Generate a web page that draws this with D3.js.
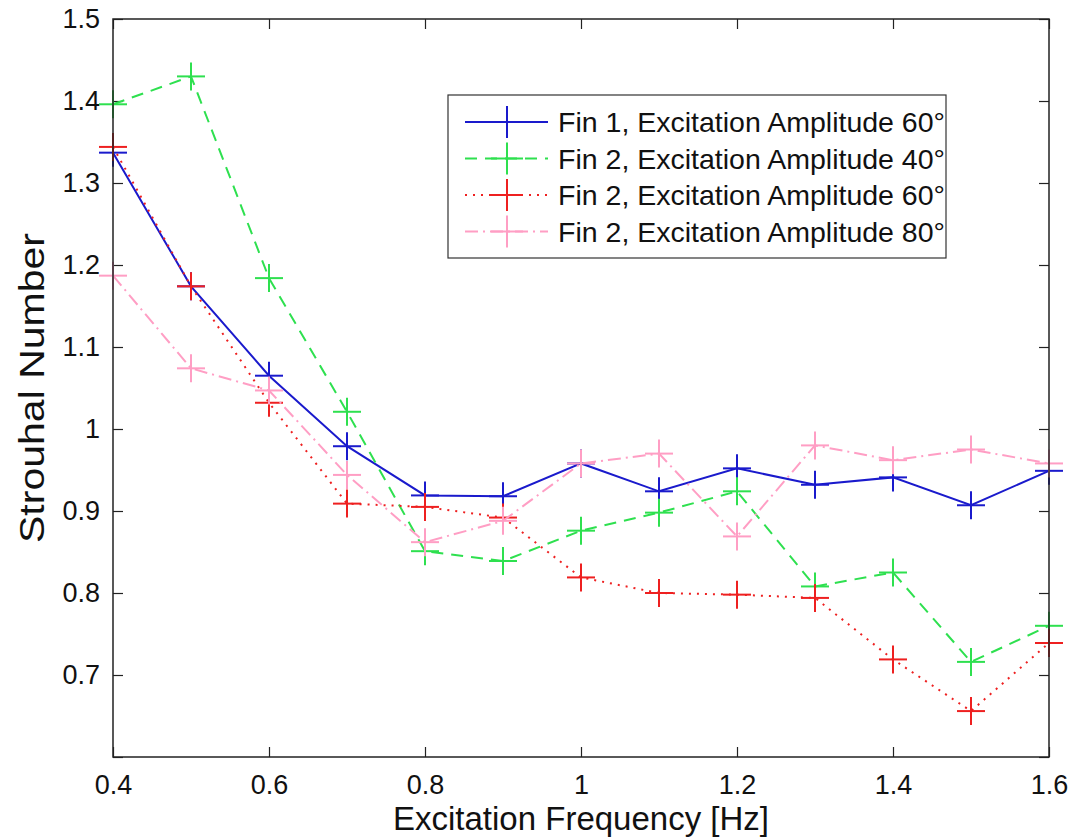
<!DOCTYPE html>
<html>
<head>
<meta charset="utf-8">
<script src="https://cdn.jsdelivr.net/npm/d3@7"></script>
<style>
  body { margin: 0; background: #fff; }
  svg { display: block; font-family: "Liberation Sans", Arial, sans-serif; }
</style>
</head>
<body>
<svg id="chart" width="1074" height="840"></svg>
<script>
// excitation frequency [Hz]
const freq = [0.4, 0.5, 0.6, 0.7, 0.8, 0.9, 1.0, 1.1, 1.2, 1.3, 1.4, 1.5, 1.6];

// Strouhal number per series
const fin1Amp60 = [1.337, 1.174, 1.065, 0.979, 0.919, 0.918, 0.958, 0.924, 0.952, 0.932, 0.941, 0.907, 0.949];
const fin2Amp40 = [1.396, 1.430, 1.184, 1.021, 0.851, 0.839, 0.876, 0.898, 0.924, 0.808, 0.825, 0.716, 0.760];
const fin2Amp60 = [1.344, 1.174, 1.032, 0.909, 0.905, 0.892, 0.819, 0.800, 0.798, 0.794, 0.719, 0.656, 0.739];
const fin2Amp80 = [1.187, 1.074, 1.047, 0.944, 0.862, 0.888, 0.958, 0.970, 0.869, 0.980, 0.962, 0.975, 0.958];

const seriesNames = [
    "Fin 1, Excitation Amplitude 60°",
    "Fin 2, Excitation Amplitude 40°",
    "Fin 2, Excitation Amplitude 60°",
    "Fin 2, Excitation Amplitude 80°"
];

const xTicks = [0.4, 0.6, 0.8, 1.0, 1.2, 1.4, 1.6];
const yTicks = [0.6, 0.7, 0.8, 0.9, 1.0, 1.1, 1.2, 1.3, 1.4, 1.5];
const yTickLabels = ["", "0.7", "0.8", "0.9", "1", "1.1", "1.2", "1.3", "1.4", "1.5"];
const xTickLabels = ["0.4", "0.6", "0.8", "1", "1.2", "1.4", "1.6"];

// line styles for each series (same order as seriesNames)
const styles = [
    { color: "#1a1acc", dash: null },
    { color: "#2ee04f", dash: "12,8" },
    { color: "#ee2020", dash: "2,6" },
    { color: "#ff9ec4", dash: "13,5,2,5" }
];

const svg = d3.select("#chart");
const plot = { left: 113, top: 19, right: 1049, bottom: 757 };

const x = d3.scaleLinear().domain([0.4, 1.6]).range([plot.left, plot.right]);
const y = d3.scaleLinear().domain([0.6, 1.5]).range([plot.bottom, plot.top]);

const data = [fin1Amp60, fin2Amp40, fin2Amp60, fin2Amp80].map((vals, i) => ({
    name: seriesNames[i],
    style: styles[i],
    points: vals.map((v, j) => ({ f: freq[j], s: v }))
}));

// axes: ticks point inward, labels only on bottom and left
const bottomAxis = d3.axisBottom(x).tickValues(xTicks)
    .tickFormat((d, i) => xTickLabels[i]).tickSizeInner(-10).tickSizeOuter(0).tickPadding(18);
const topAxis = d3.axisTop(x).tickValues(xTicks).tickFormat("").tickSizeInner(-10).tickSizeOuter(0);
const leftAxis = d3.axisLeft(y).tickValues(yTicks)
    .tickFormat((d, i) => yTickLabels[i]).tickSizeInner(-10).tickSizeOuter(0).tickPadding(13);
const rightAxis = d3.axisRight(y).tickValues(yTicks).tickFormat("").tickSizeInner(-10).tickSizeOuter(0);

function styleAxis(g) {
    g.select(".domain").remove();
    g.selectAll(".tick line").attr("stroke", "#222").attr("stroke-width", 1.2);
    g.selectAll(".tick text").attr("fill", "#111").style("font-size", "27px")
        .style("font-family", "'Liberation Sans', Arial, sans-serif");
}

svg.append("g").attr("transform", `translate(0,${plot.bottom})`).call(bottomAxis).call(styleAxis);
svg.append("g").attr("transform", `translate(0,${plot.top})`).call(topAxis).call(styleAxis);
svg.append("g").attr("transform", `translate(${plot.left},0)`).call(leftAxis).call(styleAxis);
svg.append("g").attr("transform", `translate(${plot.right},0)`).call(rightAxis).call(styleAxis);

// series lines + plus markers
const line = d3.line().x(d => x(d.f)).y(d => y(d.s));
const plusSize = 14;

function plus(g, color, cx, cy, r) {
    g.append("line").attr("x1", cx - r).attr("x2", cx + r).attr("y1", cy).attr("y2", cy)
        .attr("stroke", color).attr("stroke-width", 2);
    g.append("line").attr("x1", cx).attr("x2", cx).attr("y1", cy - r).attr("y2", cy + r)
        .attr("stroke", color).attr("stroke-width", 2);
}

data.forEach(s => {
    const g = svg.append("g");
    g.append("path")
        .datum(s.points)
        .attr("d", line)
        .attr("fill", "none")
        .attr("stroke", s.style.color)
        .attr("stroke-width", 2)
        .attr("stroke-dasharray", s.style.dash);
    s.points.forEach(p => plus(g, s.style.color, x(p.f), y(p.s), plusSize));
});

// frame
svg.append("rect")
    .attr("x", plot.left).attr("y", plot.top)
    .attr("width", plot.right - plot.left).attr("height", plot.bottom - plot.top)
    .attr("fill", "none").attr("stroke", "#222").attr("stroke-width", 1.5);

// legend
const legend = svg.append("g").attr("transform", "translate(448,95)");
legend.append("rect").attr("width", 498).attr("height", 163)
    .attr("fill", "#fff").attr("stroke", "#333").attr("stroke-width", 1.2);

data.forEach((s, i) => {
    const rowY = 27 + i * 36.5;
    legend.append("line")
        .attr("x1", 17).attr("x2", 100).attr("y1", rowY).attr("y2", rowY)
        .attr("stroke", s.style.color).attr("stroke-width", 2)
        .attr("stroke-dasharray", s.style.dash);
    plus(legend, s.style.color, 59, rowY, 16);
    legend.append("text")
        .attr("x", 110).attr("y", rowY)
        .attr("dy", "0.36em")
        .attr("fill", "#111")
        .style("font-size", "28px")
        .attr("textLength", 387).attr("lengthAdjust", "spacingAndGlyphs")
        .text(s.name);
});

// axis titles
svg.append("text")
    .attr("x", (plot.left + plot.right) / 2).attr("y", 830)
    .attr("text-anchor", "middle").attr("fill", "#111")
    .style("font-size", "33px")
    .text("Excitation Frequency [Hz]");

svg.append("text")
    .attr("transform", `translate(44,${(plot.top + plot.bottom) / 2}) rotate(-90)`)
    .attr("text-anchor", "middle").attr("fill", "#111")
    .style("font-size", "35px")
    .attr("textLength", 310).attr("lengthAdjust", "spacingAndGlyphs")
    .text("Strouhal Number");
</script>
</body>
</html>
